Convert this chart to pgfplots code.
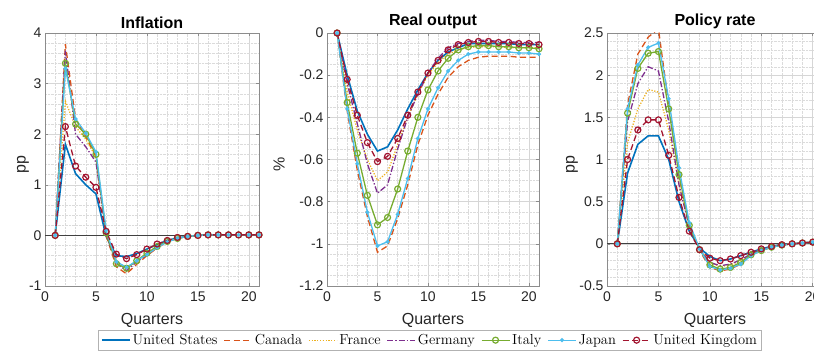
\documentclass[border=0pt]{standalone}
\usepackage{fontspec}
\newfontfamily\arial{Liberation Sans}
\usepackage{pgfplots}
\pgfplotsset{compat=1.18}
\usepackage{pgfplotstable}

\definecolor{mBlue}{rgb}{0,0.447,0.741}
\definecolor{mOrange}{rgb}{0.85,0.325,0.098}
\definecolor{mYellow}{rgb}{0.929,0.694,0.125}
\definecolor{mPurple}{rgb}{0.494,0.184,0.556}
\definecolor{mGreen}{rgb}{0.466,0.674,0.188}
\definecolor{mCyan}{rgb}{0.301,0.745,0.933}
\definecolor{mRed}{rgb}{0.635,0.078,0.184}

\pgfplotstableread{
x us ca fr de it jp uk
1 0 0 0 0 0 0 0
2 1.80 3.78 2.65 3.65 3.40 3.30 2.15
3 1.22 2.30 2.15 2.00 2.20 2.30 1.37
4 1.00 1.95 1.90 1.75 2.00 2.02 1.15
5 0.82 1.55 1.55 1.45 1.60 1.65 0.95
6 -0.02 0.00 0.05 0.02 0.05 0.10 0.08
7 -0.40 -0.62 -0.50 -0.55 -0.56 -0.52 -0.37
8 -0.42 -0.76 -0.66 -0.70 -0.65 -0.63 -0.46
9 -0.36 -0.57 -0.50 -0.52 -0.50 -0.50 -0.38
10 -0.27 -0.40 -0.35 -0.38 -0.35 -0.38 -0.27
11 -0.18 -0.25 -0.22 -0.23 -0.22 -0.24 -0.17
12 -0.10 -0.13 -0.12 -0.12 -0.12 -0.13 -0.10
13 -0.05 -0.06 -0.06 -0.06 -0.06 -0.06 -0.04
14 -0.02 -0.02 -0.02 -0.02 -0.02 -0.02 -0.02
15 0.00 0.00 0.00 0.00 0.00 0.00 0.00
16 0.01 0.01 0.01 0.01 0.01 0.01 0.01
17 0.01 0.01 0.01 0.01 0.01 0.01 0.01
18 0.01 0.01 0.01 0.01 0.01 0.01 0.01
19 0.01 0.01 0.01 0.01 0.01 0.01 0.01
20 0.01 0.01 0.01 0.01 0.01 0.01 0.01
21 0.01 0.01 0.01 0.01 0.01 0.01 0.01
}\inflation

\pgfplotstableread{
x us ca fr de it jp uk
1 0 0 0 0 0 0 0
2 -0.20 -0.37 -0.28 -0.24 -0.33 -0.36 -0.22
3 -0.37 -0.65 -0.46 -0.43 -0.57 -0.62 -0.39
4 -0.48 -0.87 -0.60 -0.62 -0.77 -0.85 -0.52
5 -0.56 -1.04 -0.70 -0.76 -0.91 -1.01 -0.61
6 -0.54 -1.01 -0.66 -0.72 -0.875 -0.99 -0.585
7 -0.46 -0.88 -0.53 -0.55 -0.74 -0.86 -0.50
8 -0.36 -0.72 -0.40 -0.40 -0.56 -0.69 -0.39
9 -0.27 -0.53 -0.29 -0.29 -0.40 -0.50 -0.28
10 -0.19 -0.39 -0.20 -0.19 -0.27 -0.36 -0.19
11 -0.13 -0.29 -0.14 -0.12 -0.18 -0.26 -0.13
12 -0.09 -0.21 -0.10 -0.07 -0.12 -0.18 -0.08
13 -0.07 -0.16 -0.08 -0.05 -0.08 -0.13 -0.055
14 -0.05 -0.13 -0.07 -0.04 -0.065 -0.10 -0.045
15 -0.05 -0.115 -0.065 -0.035 -0.06 -0.09 -0.04
16 -0.05 -0.11 -0.065 -0.035 -0.06 -0.09 -0.04
17 -0.05 -0.11 -0.065 -0.04 -0.065 -0.09 -0.045
18 -0.05 -0.11 -0.07 -0.04 -0.065 -0.09 -0.045
19 -0.055 -0.115 -0.07 -0.045 -0.07 -0.095 -0.05
20 -0.055 -0.115 -0.07 -0.045 -0.07 -0.095 -0.05
21 -0.055 -0.115 -0.07 -0.045 -0.075 -0.10 -0.055
}\output

\pgfplotstableread{
x us ca fr de it jp uk
1 0 0 0 0 0 0 0
2 0.84 1.65 1.20 1.45 1.55 1.60 1.00
3 1.18 2.25 1.60 1.90 2.08 2.12 1.35
4 1.28 2.45 1.83 2.10 2.26 2.33 1.47
5 1.28 2.55 1.80 2.05 2.28 2.38 1.47
6 1.00 1.65 1.35 1.45 1.60 1.72 1.05
7 0.50 0.80 0.70 0.70 0.82 0.90 0.55
8 0.15 0.22 0.22 0.20 0.22 0.25 0.15
9 -0.05 -0.08 -0.06 -0.06 -0.07 -0.06 -0.07
10 -0.15 -0.28 -0.22 -0.22 -0.25 -0.27 -0.17
11 -0.20 -0.32 -0.27 -0.26 -0.30 -0.31 -0.20
12 -0.18 -0.30 -0.25 -0.24 -0.28 -0.29 -0.18
13 -0.14 -0.24 -0.20 -0.19 -0.22 -0.24 -0.14
14 -0.10 -0.14 -0.12 -0.12 -0.13 -0.14 -0.10
15 -0.06 -0.08 -0.07 -0.07 -0.08 -0.08 -0.06
16 -0.03 -0.04 -0.04 -0.035 -0.04 -0.04 -0.03
17 -0.01 -0.015 -0.01 -0.01 -0.015 -0.015 -0.01
18 0.00 0.00 0.00 0.00 0.00 0.00 0.00
19 0.01 0.01 0.01 0.01 0.01 0.01 0.01
20 0.02 0.02 0.02 0.02 0.02 0.02 0.02
21 0.02 0.02 0.02 0.02 0.02 0.02 0.02
}\policy

\pgfplotsset{
  panel/.style={
    scale only axis, width=214pt, height=253pt,
    xmin=0, xmax=21, xtick={0,5,10,15,20},
    minor x tick num=4,
    grid=both,
    major grid style={gray!32, line width=0.5pt},
    minor grid style={gray!28, densely dotted, line width=0.4pt},
    axis line style={black!45, line width=0.7pt},
    tick style={black!45, line width=0.5pt},
    tick align=inside, major tick length=3pt, minor tick length=0pt,
    ticklabel style={font=\arial\fontsize{14}{14}\selectfont, text=black!85},
    xticklabel style={yshift=-2pt},
    /pgf/number format/assume math mode=true,
    xlabel={Quarters},
    xlabel style={font=\arial\fontsize{16}{16}\selectfont, text=black!85, yshift=-5pt},
    ylabel style={font=\arial\fontsize{16}{16}\selectfont, text=black!85, anchor=center},
    title style={font=\arial\bfseries\fontsize{16}{16}\selectfont, at={(0.5,1)}, anchor=south, inner sep=1pt, yshift=-3pt},
    every axis plot/.append style={line width=1.3pt},
  },
  sUS/.style={mBlue, solid, line width=1.6pt},
  sCA/.style={mOrange, dash pattern=on 6pt off 3.5pt},
  sFR/.style={mYellow, dash pattern=on 1.2pt off 1.6pt},
  sDE/.style={mPurple, dash pattern=on 6pt off 2pt on 1.3pt off 2pt},
  sIT/.style={mGreen, solid, mark=o, mark size=3pt, mark options={solid, line width=1.2pt}},
  sJP/.style={mCyan, solid, mark=*, mark size=1.3pt, mark options={solid}},
  sUK/.style={mRed, dash pattern=on 6pt off 3.5pt, mark=o, mark size=3pt, mark options={solid, line width=1.2pt, fill=white}},
}

\begin{document}
\begin{tikzpicture}
% Inflation
\begin{axis}[panel, at={(45pt,69pt)}, anchor=south west,
  ymin=-1, ymax=4, ytick={-1,0,1,2,3,4}, minor y tick num=4,
  title={Inflation}, ylabel={pp},
  ylabel style={at={(axis description cs:-0.103,0.48)}}]
\addplot[black!75, line width=0.8pt, forget plot] coordinates {(0,0) (21,0)};
\addplot[sUS] table[x=x,y=us]{\inflation};
\addplot[sCA] table[x=x,y=ca]{\inflation};
\addplot[sFR] table[x=x,y=fr]{\inflation};
\addplot[sDE] table[x=x,y=de]{\inflation};
\addplot[sIT] table[x=x,y=it]{\inflation};
\addplot[sJP] table[x=x,y=jp]{\inflation};
\addplot[sUK] table[x=x,y=uk]{\inflation};
\end{axis}
% Real output
\begin{axis}[panel, at={(327pt,69pt)}, anchor=south west, width=212pt,
  ymin=-1.2, ymax=0, ytick={-1.2,-1,-0.8,-0.6,-0.4,-0.2,0}, minor y tick num=3,
  title={Real output}, ylabel={\%},
  ylabel style={at={(axis description cs:-0.226,0.48)}},
  legend columns=7,
  legend style={at={(axis description cs:0.486,-0.172)}, anchor=north,
    draw=black!30, line width=0.6pt, fill=white, inner sep=2.5pt,
    font=\fontsize{14.5}{14.5}\selectfont,
    /tikz/every even column/.append style={column sep=4pt},
    /tikz/every odd column/.append style={column sep=0pt},
    nodes={inner xsep=2pt}},
  legend image code/.code={\draw[mark repeat=2,mark phase=2] plot coordinates {(0pt,0pt) (14pt,0pt) (28pt,0pt)};}]
\addplot[sUS] table[x=x,y=us]{\output};
\addplot[sCA] table[x=x,y=ca]{\output};
\addplot[sFR] table[x=x,y=fr]{\output};
\addplot[sDE] table[x=x,y=de]{\output};
\addplot[sIT] table[x=x,y=it]{\output};
\addplot[sJP] table[x=x,y=jp]{\output};
\addplot[sUK] table[x=x,y=uk]{\output};
\legend{United States,Canada,France,Germany,Italy,Japan,United Kingdom}
\end{axis}
% Policy rate
\begin{axis}[panel, at={(607pt,69pt)}, anchor=south west, width=216pt,
  ymin=-0.5, ymax=2.5, ytick={-0.5,0,0.5,1,1.5,2,2.5}, minor y tick num=4,
  title={Policy rate}, ylabel={pp},
  ylabel style={at={(axis description cs:-0.162,0.48)}}]
\addplot[black!75, line width=0.8pt, forget plot] coordinates {(0,0) (21,0)};
\addplot[sUS] table[x=x,y=us]{\policy};
\addplot[sCA] table[x=x,y=ca]{\policy};
\addplot[sFR] table[x=x,y=fr]{\policy};
\addplot[sDE] table[x=x,y=de]{\policy};
\addplot[sIT] table[x=x,y=it]{\policy};
\addplot[sJP] table[x=x,y=jp]{\policy};
\addplot[sUK] table[x=x,y=uk]{\policy};
\end{axis}
\pgfresetboundingbox
\path[use as bounding box] (0,0) rectangle (814pt,355pt);
\end{tikzpicture}
\end{document}
